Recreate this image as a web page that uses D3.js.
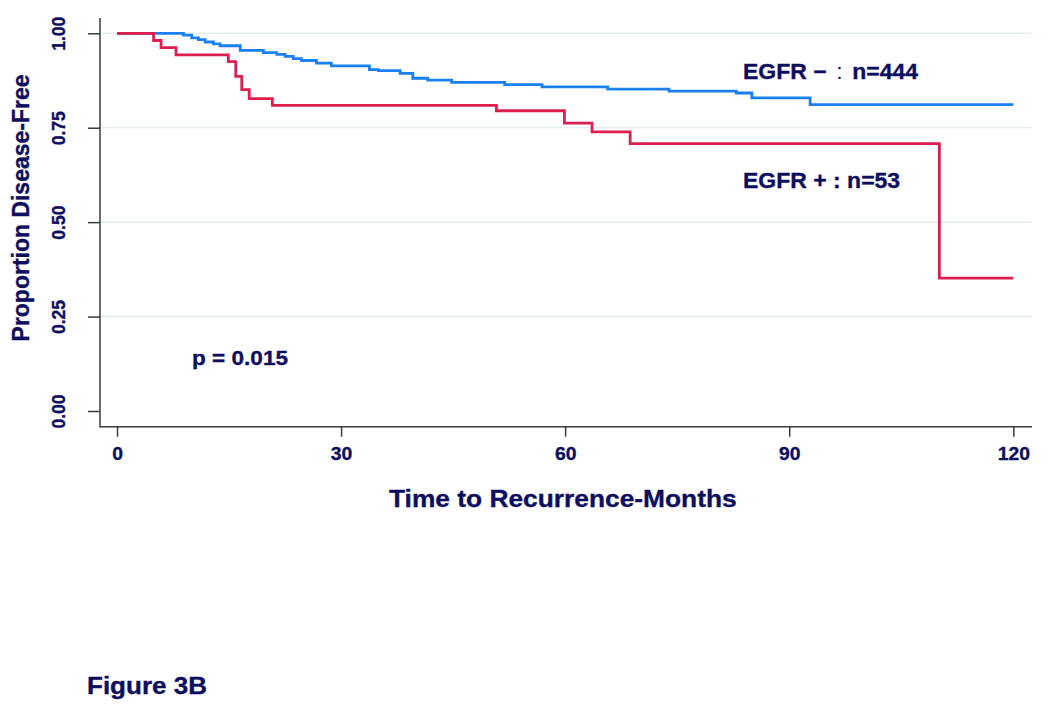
<!DOCTYPE html>
<html>
<head>
<meta charset="utf-8">
<script src="https://cdn.jsdelivr.net/npm/d3@7/dist/d3.min.js"></script>
<style>
  html, body { margin: 0; padding: 0; background: #ffffff; }
  svg { display: block; }
  text { font-family: "Liberation Sans", Arial, sans-serif; font-weight: bold; fill: #0e0e5e; stroke: #0e0e5e; stroke-width: 0.35px; }
</style>
</head>
<body>
<svg id="chart" width="1050" height="715"></svg>
<script>
// ---- data ----
const xTicks = [0, 30, 60, 90, 120];
const yTicks = [0, 0.25, 0.5, 0.75, 1];
const gridValues = [0.25, 0.5, 0.75, 1];

// EGFR − (n=444): Kaplan–Meier step curve
const negTimes = [0, 8.9, 10.0, 10.9, 11.8, 12.9, 13.8, 16.5, 19.6, 21.4, 22.5, 23.6, 24.7, 26.7, 28.7, 33.8, 35.0, 37.9, 39.6, 41.6, 44.8, 51.9, 56.9, 65.7, 73.9, 82.9, 85.0, 92.8, 120];
const negSurv  = [1.000, 0.995, 0.988, 0.983, 0.977, 0.972, 0.967, 0.955, 0.949, 0.944, 0.939, 0.933, 0.928, 0.921, 0.914, 0.904, 0.901, 0.894, 0.881, 0.876, 0.870, 0.864, 0.858, 0.852, 0.847, 0.842, 0.829, 0.811, 0.811];

// EGFR + (n=53)
const posTimes = [0, 4.9, 5.9, 7.9, 14.9, 15.9, 16.7, 17.7, 20.8, 50.8, 59.9, 63.6, 68.7, 110.1, 120];
const posSurv  = [1.000, 0.981, 0.962, 0.943, 0.925, 0.886, 0.851, 0.827, 0.809, 0.795, 0.762, 0.739, 0.708, 0.352, 0.352];

const negLabel = "EGFR − : n=444";
const posLabel = "EGFR + : n=53";
const pLabel = "p = 0.015";
const xTitle = "Time to Recurrence-Months";
const yTitle = "Proportion Disease-Free";
const figLabel = "Figure 3B";

// ---- drawing ----
const svg = d3.select("#chart");
const SX = 1.075; // horizontal stretch of the original raster

const x = d3.scaleLinear().domain([0, 120]).range([117, 1013.3]);
const y = d3.scaleLinear().domain([0, 1]).range([411, 33.3]);

const axisLeftX = 100, axisBottomY = 426.7, plotRight = 1032, plotTop = 18;

// gridlines
svg.append("g").selectAll("line").data(gridValues).join("line")
  .attr("x1", axisLeftX).attr("x2", plotRight)
  .attr("y1", d => y(d)).attr("y2", d => y(d))
  .attr("stroke", "#e4eded").attr("stroke-width", 1.5);

// axis lines
svg.append("line").attr("x1", axisLeftX).attr("x2", axisLeftX)
  .attr("y1", plotTop).attr("y2", axisBottomY + 0.75)
  .attr("stroke", "#3a3a3a").attr("stroke-width", 1.5);
svg.append("line").attr("x1", axisLeftX).attr("x2", plotRight)
  .attr("y1", axisBottomY).attr("y2", axisBottomY)
  .attr("stroke", "#3a3a3a").attr("stroke-width", 1.5);

// x axis
const gx = svg.append("g").attr("transform", `translate(0,${axisBottomY})`)
  .call(d3.axisBottom(x).tickValues(xTicks).tickSize(10).tickSizeOuter(0).tickFormat(d3.format("d")));
gx.select(".domain").remove();
gx.selectAll(".tick line").attr("stroke", "#3a3a3a").attr("stroke-width", 1.5);
gx.selectAll(".tick text")
  .attr("y", 0).attr("dy", null)
  .attr("transform", `translate(0,33.3) scale(${SX},1)`)
  .attr("font-size", 18).attr("font-family", null).attr("fill", null)
  .attr("text-anchor", "middle");

// y axis
const gy = svg.append("g").attr("transform", `translate(${axisLeftX},0)`)
  .call(d3.axisLeft(y).tickValues(yTicks).tickSize(12).tickSizeOuter(0).tickFormat(d3.format(".2f")));
gy.select(".domain").remove();
gy.selectAll(".tick line").attr("stroke", "#3a3a3a").attr("stroke-width", 1.5);
gy.selectAll(".tick text")
  .attr("x", 0).attr("dy", null)
  .attr("transform", `translate(-35,0) scale(${SX},1) rotate(-90)`)
  .attr("font-size", 17.5).attr("font-family", null).attr("fill", null)
  .attr("text-anchor", "middle");

// axis titles
svg.append("text").text(xTitle)
  .attr("transform", `translate(562.8,507.3) scale(${SX},1)`)
  .attr("text-anchor", "middle").attr("font-size", 24.5);
svg.append("text").text(yTitle)
  .attr("transform", `translate(29,208) scale(${SX},1) rotate(-90)`)
  .attr("text-anchor", "middle").attr("font-size", 23);

// curves
const line = d3.line().x(d => x(d[0])).y(d => y(d[1])).curve(d3.curveStepAfter);
const negData = negTimes.map((t, i) => [t, negSurv[i]]);
const posData = posTimes.map((t, i) => [t, posSurv[i]]);
svg.append("path").datum(negData).attr("d", line)
  .attr("fill", "none").attr("stroke", "#1a7ff0").attr("stroke-width", 2.8);
svg.append("path").datum(posData).attr("d", line)
  .attr("fill", "none").attr("stroke", "#dc1f4e").attr("stroke-width", 2.8);

// annotations
function label(txt, px, py, size) {
  return svg.append("text").text(txt)
    .attr("transform", `translate(${px},${py}) scale(${SX},1)`)
    .attr("font-size", size);
}
// first label: longer dash and thin colon as in the reference
const neg = svg.append("text")
  .attr("transform", `translate(743,79.3) scale(${SX},1)`)
  .attr("font-size", 21.4);
const negParts = negLabel.split(":");
neg.append("tspan").text(negParts[0]);
neg.append("tspan").attr("dx", 3).attr("font-weight", "normal").attr("stroke-width", 0).text(":");
neg.append("tspan").attr("dx", 3).text(negParts[1]);

label(posLabel, 743, 188.3, 21.4);
label(pLabel, 192, 365, 21);

svg.append("text").text(figLabel)
  .attr("x", 87).attr("y", 694.3)
  .attr("font-family", "'DejaVu Sans', Verdana, sans-serif")
  .attr("font-size", 23)
  .attr("textLength", 120).attr("lengthAdjust", "spacingAndGlyphs");
</script>
</body>
</html>
